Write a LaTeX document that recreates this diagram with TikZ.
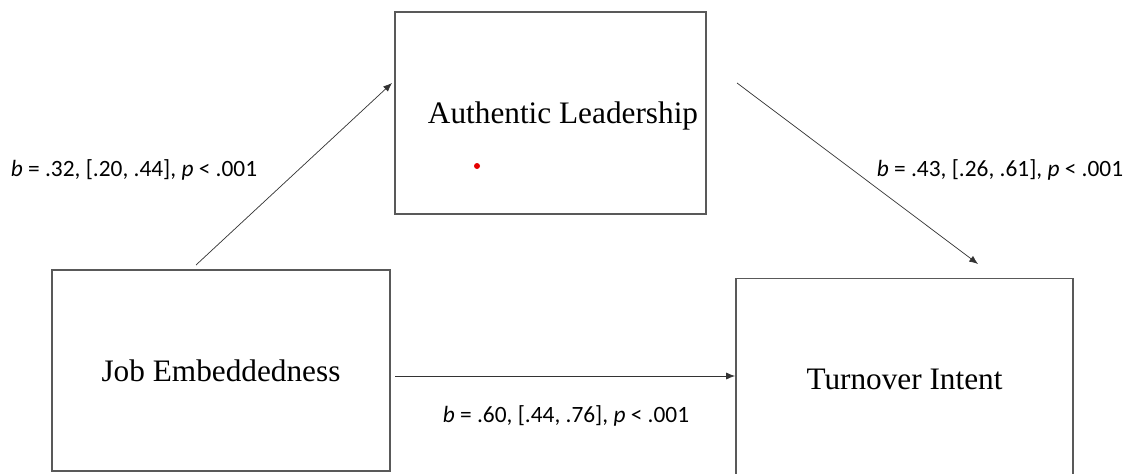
\documentclass[tikz,border=0pt]{standalone}
\usepackage{fontspec}
\setmainfont{Liberation Serif}
\newfontfamily\labelfont{Carlito}
\usetikzlibrary{arrows.meta}
\begin{document}
\begin{tikzpicture} [x=0.02cm,y=-0.02cm,
	var/.style={shape=rectangle,draw=black!65,line width=0.9pt,inner sep=0pt,font=\fontsize{17.8}{20}\selectfont},
	path/.style={-{Latex[length=5pt,width=4pt]},draw=black!80,line width=0.4pt},
	coef/.style={font=\labelfont\fontsize{13.3}{15}\selectfont}]
	\useasboundingbox (0,0) rectangle (1131,473);
	\node (leader) at (550.5,113)[var,minimum width=6.22cm,minimum height=4.04cm] {};
	\node (embed) at (221,370.5)[var,minimum width=6.76cm,minimum height=4.02cm] {Job Embeddedness};
	\node (turnover) at (904.5,379)[var,minimum width=6.74cm,minimum height=4.02cm] {Turnover Intent};
	\node (leaderText) at (563,116)[font=\fontsize{17.8}{20}\selectfont] {Authentic Leadership};
	\fill[red!90!black] (477,166) circle (3);

	\coordinate (a1) at (196,265);
	\coordinate (a2) at (392,83);
	\coordinate (b1) at (737,83);
	\coordinate (b2) at (978,264);
	\coordinate (c1) at (395,376);
	\coordinate (c2) at (735,376);
	\draw[path] (a1) -- (a2);
	\draw[path] (b1) -- (b2);
	\draw[path] (c1) -- (c2);

	\node (coefA) at (134,170)[coef] {\textit{b} = .32, [.20, .44], \textit{p} < .001};
	\node (coefB) at (1000,170)[coef] {\textit{b} = .43, [.26, .61], \textit{p} < .001};
	\node (coefC) at (566,416)[coef] {\textit{b} = .60, [.44, .76], \textit{p} < .001};
\end{tikzpicture}
\end{document}
